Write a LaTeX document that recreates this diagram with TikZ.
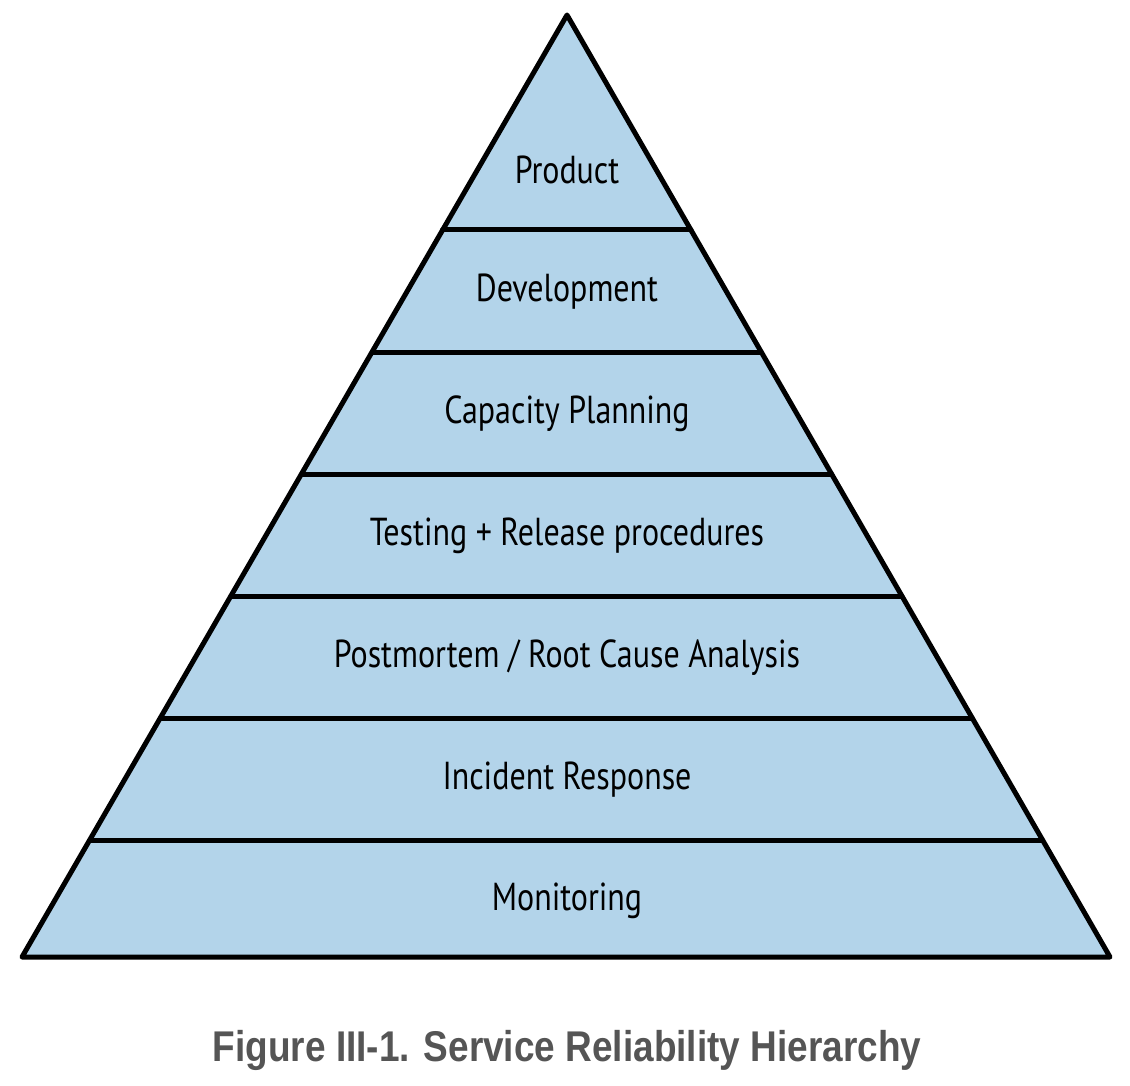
\documentclass[tikz,border=0pt]{standalone}
\usepackage{fontspec}
\newfontfamily\layerfont[FakeStretch=0.82]{PT Sans}
\newfontfamily\captionfont[FakeStretch=0.86]{Liberation Sans}
\definecolor{layerblue}{HTML}{B3D4EA}
\definecolor{captiongray}{HTML}{555555}
\begin{document}
\begin{tikzpicture}[x=1pt, y=-1pt, line join=round, line cap=round]
	\tikzset{
		layer/.style={font=\layerfont\fontsize{39}{44}\selectfont, text=black},
		divider/.style={line width=5pt}
	}
	\useasboundingbox (0,0) rectangle (1130,1086);
	% Đỉnh và đáy tháp
	\coordinate (T) at (567,15);
	\coordinate (L) at (22,957);
	\coordinate (R) at (1110,957);
	\fill[layerblue] (T) -- (L) -- (R) -- cycle;
	% Các đường chia tầng
	\foreach \y in {230,352,474,596,718,840}{
		\pgfmathsetmacro{\xl}{567-(\y-15)/942*545}
		\pgfmathsetmacro{\xr}{567+(\y-15)/942*543}
		\draw[divider] (\xl,\y) -- (\xr,\y);
	}
	% Viền tháp
	\draw[divider, line cap=butt, miter limit=4] (T) -- (L) -- (R) -- cycle;
	% Nhãn các tầng
	\node[layer] (product) at (567,170) {Product};
	\node[layer] (development) at (567,292) {Development};
	\node[layer] (capacity) at (567,414) {Capacity Planning};
	\node[layer] (testing) at (567,536) {Testing + Release procedures};
	\node[layer] (postmortem) at (567,658) {Postmortem / Root Cause Analysis};
	\node[layer] (incident) at (567,780) {Incident Response};
	\node[layer] (monitoring) at (567,901) {Monitoring};
	% Chú thích hình
	\node[font=\captionfont\bfseries\fontsize{43}{48}\selectfont, text=captiongray] (caption) at (567,1050) {Figure III-1. Service Reliability Hierarchy};
\end{tikzpicture}
\end{document}
